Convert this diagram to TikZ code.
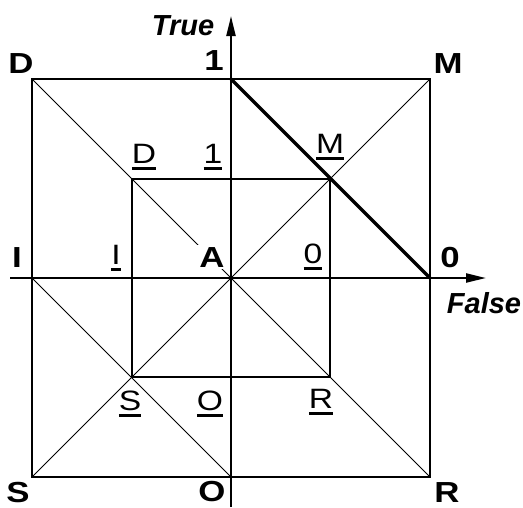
\documentclass[tikz,border=0pt]{standalone}
\usepackage{graphicx}
\usepackage{fontspec}
\setmainfont{Liberation Sans}
\usetikzlibrary{arrows.meta}
\newcommand\widelbl[1]{\scalebox{1.2}[1]{#1}}
\newcommand\ulbl[1]{\setbox0\hbox{\scalebox{1.2}[1]{#1}}\rlap{\rule[-7pt]{\wd0}{2.6pt}}\box0}
\begin{document}
\begin{tikzpicture}[x=1pt,y=-1pt,
  frame/.style={line width=2.3pt},
  thinline/.style={line width=0.9pt},
  heavy/.style={line width=3.4pt},
  axis/.style={line width=2.3pt,-{Triangle[length=20pt,width=9pt]}},
  big/.style={font=\fontsize{29}{29}\selectfont\bfseries,anchor=base,inner sep=0pt},
  small/.style={font=\fontsize{28}{28}\selectfont,anchor=base,inner sep=0pt},
  axlabel/.style={font=\fontsize{29}{29}\selectfont\bfseries\itshape,anchor=base,inner sep=0pt}]
\useasboundingbox (0,0) rectangle (523,507);
% points
\coordinate (C) at (231,278);
\coordinate (oD) at (32,79);
\coordinate (oM) at (430,79);
\coordinate (oR) at (430,477);
\coordinate (oS) at (32,477);
\coordinate (o1) at (231,79);
\coordinate (o0) at (430,278);
\coordinate (oI) at (32,278);
\coordinate (oO) at (231,477);
\coordinate (iD) at (132,179);
\coordinate (iM) at (330,179);
\coordinate (iR) at (330,377);
\coordinate (iS) at (132,377);
\coordinate (ytop) at (231,16);
\coordinate (ybot) at (231,507);
\coordinate (xl) at (10,278);
\coordinate (xr) at (486,278);
% thin diagonals
\draw[thinline] (oS) -- (oM);
\draw[thinline] (oD) -- (oR);
\draw[thinline] (oI) -- (oO);
% squares
\draw[frame] (oD) rectangle (oR);
\draw[frame] (iD) rectangle (iR);
% axes
\draw[axis] (ybot) -- (ytop);
\draw[axis] (xl) -- (xr);
% heavy line
\draw[heavy] (o1) -- (o0);
% labels
\node[big] (lD) at (21,73) {\widelbl{D}};
\node[big] (l1) at (214,70) {\widelbl{1}};
\node[big] (lM) at (448,73) {\widelbl{M}};
\node[big] (lI) at (17,267) {\widelbl{I}};
\node[big,fill=white,inner sep=2pt] (lA) at (212,267) {\widelbl{A}};
\node[big] (l0) at (450,267) {\widelbl{0}};
\node[big] (lS) at (18,502) {\widelbl{S}};
\node[big] (lO) at (212,501) {\widelbl{O}};
\node[big] (lR) at (447,502) {\widelbl{R}};
\node[small] (uD) at (144,163) {\ulbl{D}};
\node[small] (u1) at (213,163) {\ulbl{1}};
\node[small] (uM) at (330,153) {\ulbl{M}};
\node[small] (uI) at (116,264) {\ulbl{I}};
\node[small] (u0) at (313,263) {\ulbl{0}};
\node[small] (uS) at (130,410) {\ulbl{S}};
\node[small] (uO) at (210,410) {\ulbl{O}};
\node[small] (uR) at (321,408) {\ulbl{R}};
\node[axlabel] (lT) at (183,35) {True};
\node[axlabel] (lF) at (484,313) {False};
\end{tikzpicture}
\end{document}
